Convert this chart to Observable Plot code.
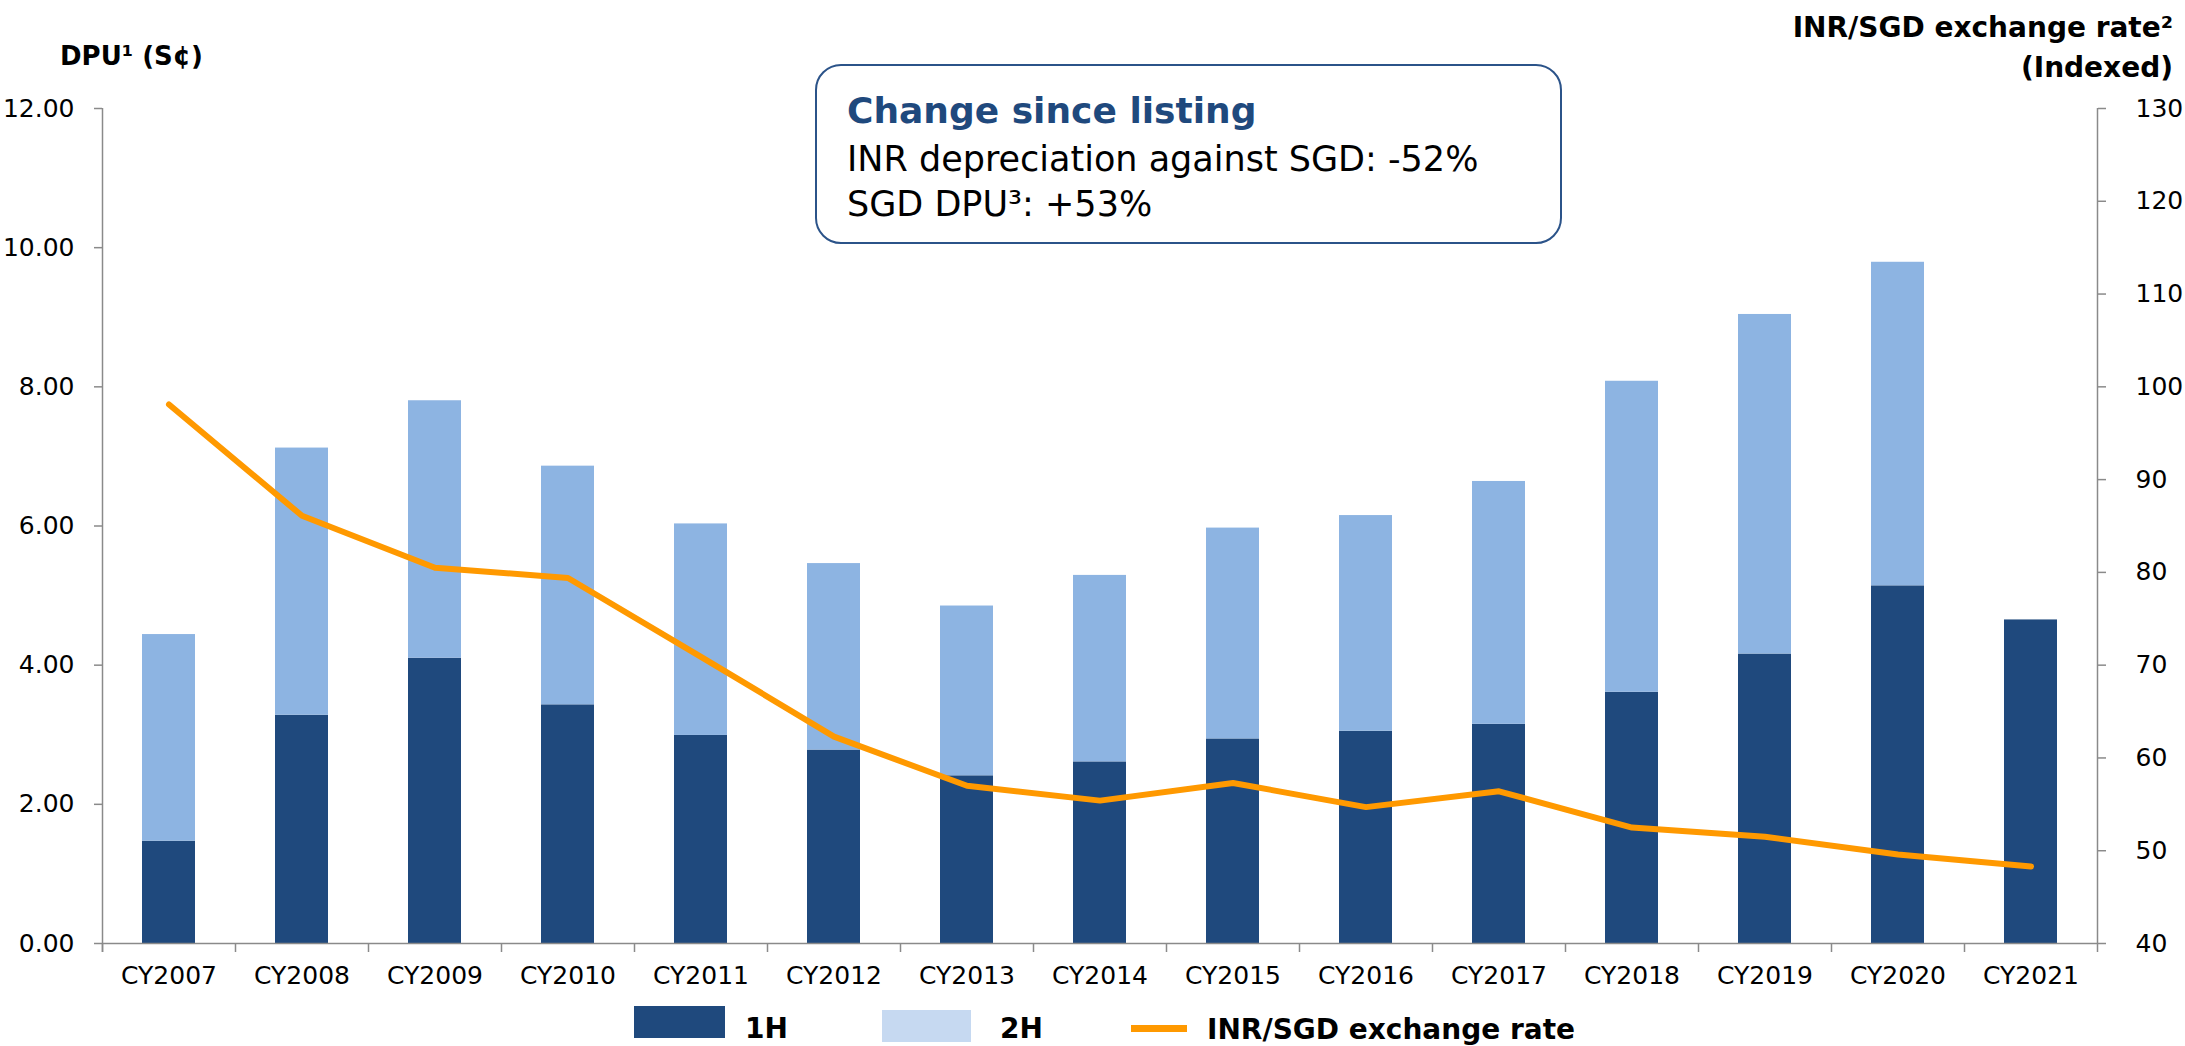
<!DOCTYPE html>
<html><head><meta charset="utf-8">
<script src="https://cdn.jsdelivr.net/npm/d3@7"></script>
<script src="https://cdn.jsdelivr.net/npm/@observablehq/plot@0.6"></script>
<style>
body{margin:0;background:#fff;}
#wrap{position:relative;width:2185px;height:1046px;overflow:hidden;font-family:"DejaVu Sans",sans-serif;color:#000;}
#chart{position:absolute;left:0;top:0;}
.t{position:absolute;white-space:nowrap;line-height:1;}
.b{font-weight:bold;}
#box{position:absolute;left:815px;top:64px;width:747px;height:180px;box-sizing:border-box;border:2.5px solid #2B5389;border-radius:26px;background:#fff;}
.sw{position:absolute;}
</style></head><body>
<div id="wrap">
  <div id="chart"></div>
  <div class="t b" style="left:60px;top:43px;font-size:26px;">DPU¹ (S¢)</div>
  <div class="t b" style="right:12px;top:8px;font-size:28px;line-height:40px;text-align:right;">INR/SGD exchange rate²<br>(Indexed)</div>
  <div id="box"></div>
  <div class="t b" style="left:847px;top:93px;font-size:36px;color:#1F497D;">Change since listing</div>
  <div class="t" style="left:847px;top:142px;font-size:35px;">INR depreciation against SGD: -52%</div>
  <div class="t" style="left:847px;top:187px;font-size:35px;">SGD DPU³: +53%</div>
  <div class="sw" style="left:634px;top:1006px;width:91px;height:32px;background:#1F497D;"></div>
  <div class="t b" style="left:745px;top:1015px;font-size:28px;">1H</div>
  <div class="sw" style="left:882px;top:1010px;width:89px;height:32px;background:#C6D9F1;"></div>
  <div class="t b" style="left:1000px;top:1015px;font-size:28px;">2H</div>
  <div class="sw" style="left:1131px;top:1025px;width:56px;height:7px;background:#FF9900;"></div>
  <div class="t b" style="left:1207px;top:1016px;font-size:28px;">INR/SGD exchange rate</div>
</div>
<script>
const years = ["CY2007","CY2008","CY2009","CY2010","CY2011","CY2012","CY2013","CY2014","CY2015","CY2016","CY2017","CY2018","CY2019","CY2020","CY2021"];
const dpu1H = [1.47, 3.28, 4.10, 3.43, 2.99, 2.78, 2.41, 2.61, 2.94, 3.05, 3.15, 3.61, 4.16, 5.14, 4.65];
const dpu2H = [2.97, 3.84, 3.70, 3.43, 3.04, 2.68, 2.44, 2.68, 3.03, 3.10, 3.49, 4.47, 4.88, 4.65, 0];
const inrSgdRate = [98.1, 86.1, 80.5, 79.4, 70.9, 62.3, 57.0, 55.4, 57.3, 54.7, 56.4, 52.5, 51.5, 49.6, 48.3];
const leftTicks = [0, 2, 4, 6, 8, 10, 12];
const rightTicks = [40, 50, 60, 70, 80, 90, 100, 110, 120, 130];

const W = 2185, H = 1046, mL = 102, mR = 88, mT = 108, mB = 103;
const dpuMax = 12, rateMin = 40, rateMax = 130;
const toY = r => (r - rateMin) / (rateMax - rateMin) * dpuMax;
const fromY = v => v / dpuMax * (rateMax - rateMin) + rateMin;
const step = (W - mL - mR) / years.length;
const axisColor = "#8a8a8a";

const bars = years.flatMap((y, i) => [
  {year: y, half: "1H", value: dpu1H[i]},
  {year: y, half: "2H", value: dpu2H[i]}
]);
const rateData = years.map((y, i) => ({year: y, rate: inrSgdRate[i]}));

const chart = Plot.plot({
  width: W, height: H,
  marginLeft: mL, marginRight: mR, marginTop: mT, marginBottom: mB,
  style: {fontFamily: '"DejaVu Sans", sans-serif', fontSize: "25px", color: "#000", background: "transparent", overflow: "visible"},
  x: {domain: years, paddingInner: 0.6, paddingOuter: 0.3, label: null},
  y: {domain: [0, dpuMax], label: null},
  color: {domain: ["1H", "2H"], range: ["#1F497D", "#8DB4E2"]},
  marks: [
    Plot.barY(bars, {x: "year", y: "value", fill: "half"}),
    Plot.ruleY([0], {stroke: axisColor, strokeWidth: 1.5}),
    Plot.ruleX([years[0]], {y1: dpuMax, y2: 0, dx: -step / 2, insetBottom: -9, stroke: axisColor, strokeWidth: 1.5}),
    Plot.ruleX([years[years.length - 1]], {y1: dpuMax, y2: 0, dx: step / 2, insetBottom: -9, stroke: axisColor, strokeWidth: 1.5}),
    Plot.ruleX(years, {y1: 0, y2: 0, dx: -step / 2, insetBottom: -9, stroke: axisColor, strokeWidth: 1.5}),
    Plot.line(rateData, {x: "year", y: d => toY(d.rate), stroke: "#FF9900", strokeWidth: 6, strokeLinecap: "round", strokeLinejoin: "round"}),
    Plot.axisY({ticks: leftTicks, tickFormat: d3.format(".2f"), tickSize: 8, tickPadding: 20, stroke: axisColor, strokeWidth: 1.5, fill: "#000", label: null}),
    Plot.axisY({anchor: "right", ticks: rightTicks.map(toY), tickFormat: d => String(Math.round(fromY(d))), tickSize: 8, tickPadding: 30, stroke: axisColor, strokeWidth: 1.5, fill: "#000", label: null}),
    Plot.axisX({tickSize: 0, tickPadding: 23, fill: "#000", label: null})
  ]
});
document.getElementById("chart").appendChild(chart);
</script>
</body></html>
